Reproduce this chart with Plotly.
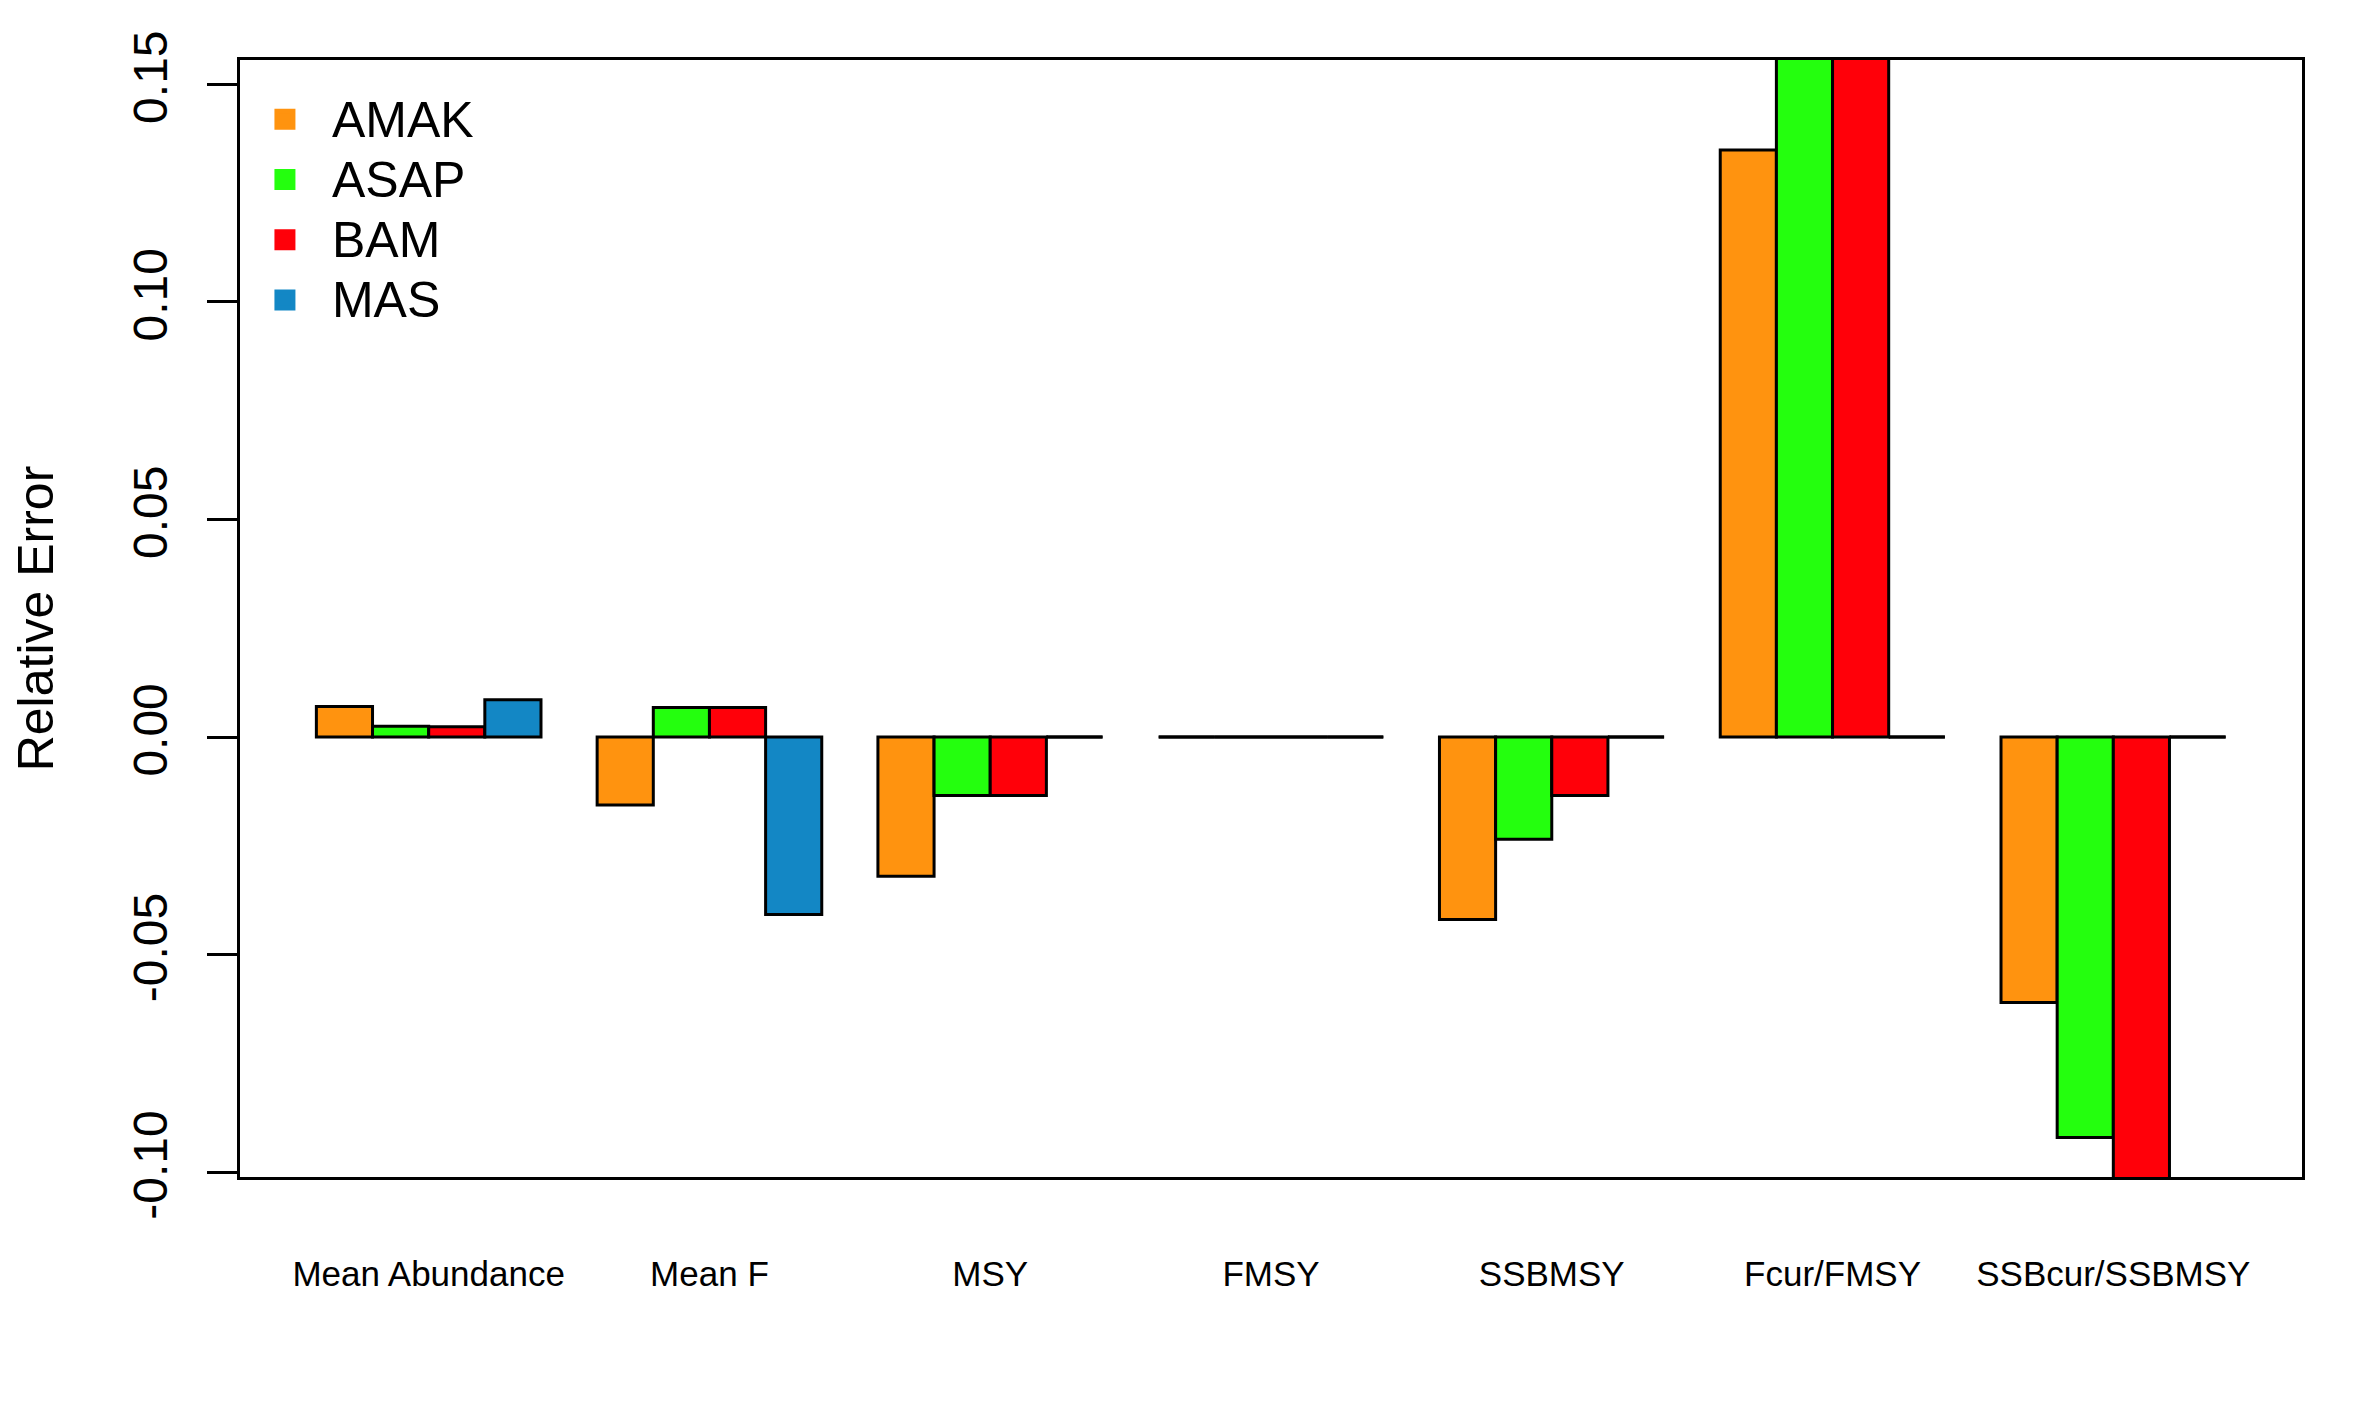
import plotly.graph_objects as go

categories = ["Mean Abundance", "Mean F", "MSY", "FMSY", "SSBMSY", "Fcur/FMSY", "SSBcur/SSBMSY"]
models = ["AMAK", "ASAP", "BAM", "MAS"]
amak = [0.0070, -0.0156, -0.0320, 0.0, -0.0419, 0.1349, -0.0610]
asap = [0.0025, 0.0068, -0.0134, 0.0, -0.0235, 0.1750, -0.0920]
bam = [0.0024, 0.0068, -0.0134, 0.0, -0.0134, 0.1680, -0.1100]
mas = [0.0086, -0.0408, 0.0, 0.0, 0.0, 0.0, 0.0]
colors = ["#FF930F", "#24FF0E", "#FF0009", "#1387C5"]
y_ticks = [-0.10, -0.05, 0.00, 0.05, 0.10, 0.15]
y_ticktext = ["-0.10", "-0.05", "0.00", "0.05", "0.10", "0.15"]

series = [amak, asap, bam, mas]
n_models = len(models)
group_w = n_models + 1  # R barplot beside=TRUE: space c(0,1)

FONT = "Liberation Sans, Arial, Helvetica, sans-serif"

fig = go.Figure()

# bars
for k, (name, vals, col) in enumerate(zip(models, series, colors)):
    xs = [1 + g * group_w + k + 0.5 for g in range(len(categories))]
    fig.add_trace(go.Bar(
        x=xs, y=vals, width=1.0, name=name,
        marker=dict(color=col, line=dict(color="black", width=3)),
        showlegend=False, legendgroup=name,
    ))

# zero-height bars drawn by R as flat outlines
zx, zy = [], []
for k, vals in enumerate(series):
    for g, v in enumerate(vals):
        if v == 0:
            left = 1 + g * group_w + k
            zx += [left, left + 1, None]
            zy += [v, v, None]
fig.add_trace(go.Scatter(x=zx, y=zy, mode="lines", line=dict(color="black", width=3),
                         showlegend=False, hoverinfo="skip"))

# legend entries
for name, col in zip(models, colors):
    fig.add_trace(go.Scatter(
        x=[None], y=[None], mode="markers",
        name=f"<span style='font-size:50px'>{name}</span>", legendgroup=name,
        marker=dict(symbol="square", size=16, color=col, line=dict(color=col, width=5)),
    ))

x_lo = 1
x_hi = len(categories) * group_w
pad = 0.04 * (x_hi - x_lo)
group_centers = [1 + g * group_w + n_models / 2 for g in range(len(categories))]

W, H = 2346, 1401
fig.update_layout(
    width=W, height=H,
    margin=dict(l=232, r=52, t=52, b=232, pad=0),
    paper_bgcolor="white", plot_bgcolor="white",
    font=dict(family=FONT, color="black", size=48),
    barmode="overlay",
    showlegend=True,
    legend=dict(x=-0.001, y=0.9783, xanchor="left", yanchor="top",
                bgcolor="rgba(0,0,0,0)", borderwidth=0,
                font=dict(size=44, family=FONT), itemsizing="trace",
                itemwidth=84, tracegroupgap=0),
    xaxis=dict(
        range=[x_lo - pad, x_hi + pad],
        tickmode="array", tickvals=group_centers, ticktext=categories,
        ticks="", showgrid=False, zeroline=False,
        showline=True, mirror=True, linecolor="black", linewidth=3,
        tickfont=dict(size=35, family=FONT),
        ticklabelstandoff=64,
    ),
    yaxis=dict(
        range=[-0.1011, 0.1556],
        tickmode="array", tickvals=y_ticks, ticktext=y_ticktext,
        tickangle=-90, ticks="outside", ticklen=30, tickwidth=3, tickcolor="black",
        showgrid=False, zeroline=False,
        showline=True, mirror=True, linecolor="black", linewidth=3,
        tickfont=dict(size=48, family=FONT),
        ticklabelstandoff=21,
        title=dict(text="Relative Error", font=dict(size=50, family=FONT), standoff=102),
        automargin=False,
    ),
)

fig.write_html("out.html")
